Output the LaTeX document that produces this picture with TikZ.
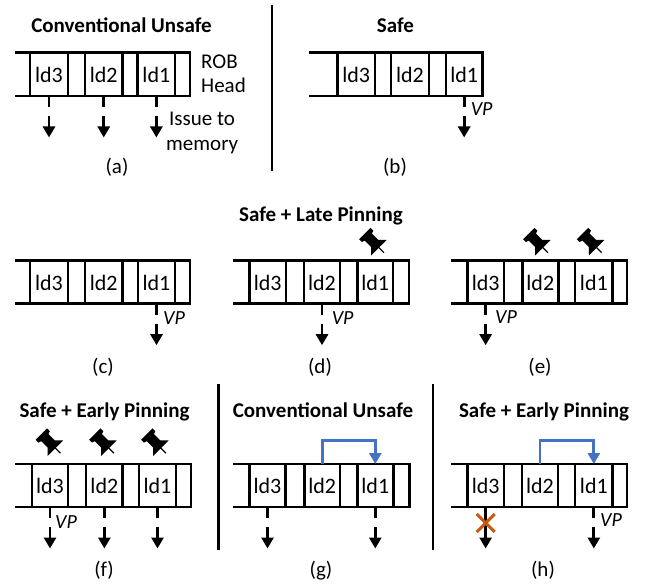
\documentclass[tikz,border=0pt]{standalone}
\usepackage{fontspec}
\setmainfont{Carlito}
\usetikzlibrary{arrows.meta,calc}
\definecolor{linkblue}{HTML}{4472C4}
\definecolor{stoporange}{HTML}{C55A11}
\tikzset{
  x=1pt,y=-1pt,
  lbl/.style={inner sep=0pt,anchor=base,font=\fontsize{21}{25}\selectfont},
  lblw/.style={inner sep=0pt,anchor=base west,font=\fontsize{21}{25}\selectfont},
  ttl/.style={inner sep=0pt,anchor=base,font=\fontsize{21}{25}\selectfont\bfseries},
  vpl/.style={inner sep=0pt,anchor=base west,font=\fontsize{20}{24}\selectfont\itshape},
  cellbox/.style={draw,line width=2.8pt,inner sep=0pt,outer sep=0pt,text height=16.6pt,text depth=0pt,font=\fontsize{22}{26}\selectfont},
  rail/.style={line width=2.8pt,line cap=butt,line join=miter},
  divider/.style={line width=2.2pt},
  issue/.style={line width=2.8pt,dash pattern=on 11pt off 9pt on 30pt,-{Triangle[length=11pt,width=12pt]}},
  issuesolid/.style={line width=2.8pt,-{Triangle[length=11pt,width=12pt]}},
  pinlink/.style={draw=linkblue,line width=2.8pt,-{Triangle[length=11pt,width=12pt]}},
  pushpin/.pic={
    \begin{scope}[rotate=-45]
      \fill[black] (-13,-8) -- (-9,-8) -- (-8,-5) -- (1,-5) -- (7,-11) -- (7,11) -- (1,5) -- (-8,5) -- (-9,8) -- (-13,8) -- cycle;
      \draw[line width=1.2pt] (6,0) -- (14,0);
    \end{scope}
  }
}
% \robrow{prefix}{left}{right}{top}{bottom}{x3a}{x3b}{x2a}{x2b}{x1a}{x1b}
\newcommand{\robrow}[7]{%
  \draw[rail] (#2,#4) -- (#3,#4) -- (#3,#5) -- (#2,#5);
  \robcells{#1}{#4}{#5}#6#7}
\def\robcells#1#2#3#4#5#6#7#8#9{%
  \pgfmathsetmacro{\cy}{(#2+#3)/2}\pgfmathsetmacro{\ch}{#3-#2}%
  \robcell{#1 3}{ld3}{#4}{#5}%
  \robcell{#1 2}{ld2}{#6}{#7}%
  \robcell{#1 1}{ld1}{#8}{#9}}
\newcommand{\robcell}[4]{%
  \pgfmathsetmacro{\cx}{(#3+#4)/2}\pgfmathsetmacro{\cw}{#4-#3}%
  \node[cellbox,minimum width=\cw pt,minimum height=\ch pt] (#1) at (\cx,\cy) {#2};}
\begin{document}
\begin{tikzpicture}
\useasboundingbox (0,0) rectangle (649,586);
% titles
\node[ttl] (ta) at (121.5,32.5) {Conventional Unsafe};
\node[ttl] (tb) at (395.5,32.5) {Safe};
\node[ttl] (tl) at (321,221) {Safe + Late Pinning};
\node[ttl] (tf) at (104.5,417) {Safe + Early Pinning};
\node[ttl] (tg) at (323,417) {Conventional Unsafe};
\node[ttl] (th) at (544,417) {Safe + Early Pinning};
% dividers
\coordinate (d1a) at (272,5); \coordinate (d1b) at (272,171);
\coordinate (d2a) at (218.5,384); \coordinate (d2b) at (218.5,550);
\coordinate (d3a) at (432.7,384); \coordinate (d3b) at (432.7,550);
\draw[divider] (d1a) -- (d1b);
\draw[divider] (d2a) -- (d2b);
\draw[divider] (d3a) -- (d3b);
% rows
\robrow{a}{15}{190}{52.5}{96}{{30}{68}{85}{122.5}}{{137.7}{175}}
\robrow{b}{309}{482.3}{52.5}{96}{{337.3}{375}{391}{429}}{{446}{482.3}}
\robrow{c}{15}{190}{260.5}{303.7}{{30}{68}{85}{122.5}}{{138}{175}}
\robrow{d}{233}{409}{260.5}{303.7}{{249.3}{286}{304}{340}}{{357.3}{393}}
\robrow{e}{451}{627}{260.5}{303.7}{{467.3}{504}{522.3}{558.3}}{{575}{612.7}}
\robrow{f}{15}{191}{464}{507}{{32}{68}{86}{122.7}}{{139}{176}}
\robrow{g}{233}{409.3}{464}{507}{{249.3}{285.7}{304.3}{340}}{{357.3}{393.3}}
\robrow{h}{451}{627}{464}{507}{{467.3}{504}{522}{558}}{{575}{612.7}}
% issue arrows
\foreach \n in {a 3,a 2,a 1,b 1,c 1,d 2,e 3,f 3,f 2,f 1,g 3,g 1,h 1}{
  \draw[issue] (\n.south) -- ++(0,41.5);
}
\draw[issuesolid] (h 3.south) -- ++(0,41.5);
% blue links
\draw[pinlink] (g 2.north) -- ++(0,-23.5) -| (g 1.north);
\draw[pinlink] (h 2.north) -- ++(0,-23.5) -| (h 1.north);
% cross
\coordinate (xc) at (485.7,523);
\draw[stoporange,line width=3pt] ($(xc)+(-9,-9)$) -- ($(xc)+(9,9)$) ($(xc)+(-9,9)$) -- ($(xc)+(9,-9)$);
% pins
\pic at (374,242.7) {pushpin};
\pic at (538,242.7) {pushpin};
\pic at (591.7,242.7) {pushpin};
\pic at (50.5,443.3) {pushpin};
\pic at (104,443.3) {pushpin};
\pic at (156,443.3) {pushpin};
% side labels
\node[lblw] (rob) at (201,69) {ROB};
\node[lblw] (head) at (201,92.7) {Head};
\node[lblw] (iss) at (169,126) {Issue to};
\node[lblw] (mem) at (166,150) {memory};
% VP labels
\node[vpl] (vb) at (470.7,115.3) {VP};
\node[vpl] (vc) at (163,324) {VP};
\node[vpl] (vd) at (331.7,324) {VP};
\node[vpl] (ve) at (495,323.5) {VP};
\node[vpl] (vf) at (55,528) {VP};
\node[vpl] (vh) at (600,526.7) {VP};
% captions
\node[lbl] (ca) at (117,173) {(a)};
\node[lbl] (cb) at (395,173) {(b)};
\node[lbl] (cc) at (103,373) {(c)};
\node[lbl] (cd) at (320,373) {(d)};
\node[lbl] (ce) at (540,373) {(e)};
\node[lbl] (cf) at (104,576) {(f)};
\node[lbl] (cg) at (321,576) {(g)};
\node[lbl] (ch) at (543,576) {(h)};
\end{tikzpicture}
\end{document}
